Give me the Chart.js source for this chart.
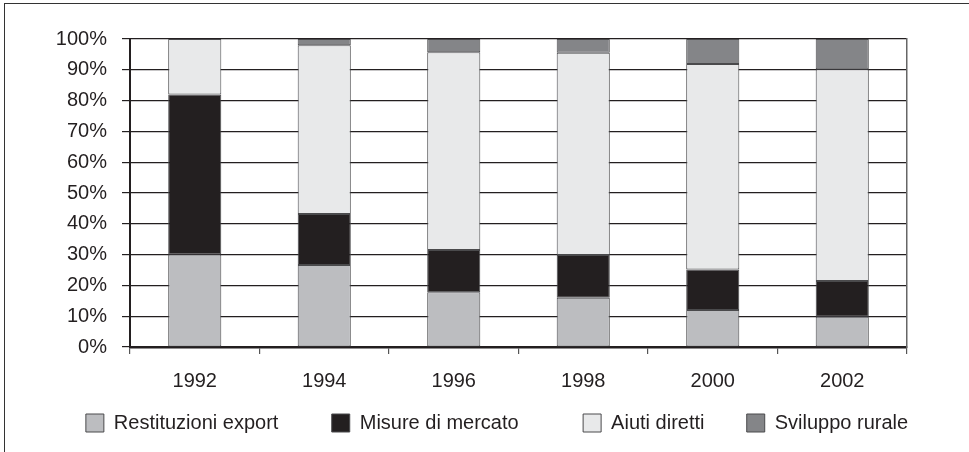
<!DOCTYPE html>
<html>
<head>
<meta charset="utf-8">
<script src="https://cdn.jsdelivr.net/npm/chart.js@4.4.1/dist/chart.umd.min.js"></script>
<style>
  html, body { margin: 0; padding: 0; background: #fff; overflow: hidden; }
  #wrap { position: relative; width: 969px; height: 452px; overflow: hidden; }
  #frame { position: absolute; left: 4px; top: 3px; right: -10px; bottom: -10px;
           border-left: 1.5px solid #333; border-top: 1.5px solid #333; pointer-events: none; }
</style>
</head>
<body>
<div id="wrap">
  <canvas id="chart" width="994" height="452"></canvas>
  <div id="frame"></div>
</div>
<script>
// Dati (% sul totale)
const years        = ['1992', '1994', '1996', '1998', '2000', '2002'];
const restituzioni = [30, 26.6, 17.8, 16, 12, 9.8];
const misure       = [52, 16.6, 13.7, 13.9, 13.2, 11.6];
const aiuti        = [18, 54.8, 64.2, 65.6, 66.7, 68.8];
const sviluppo     = [0, 2, 4.3, 4.5, 8.1, 9.8];
const yTicks       = [0, 10, 20, 30, 40, 50, 60, 70, 80, 90, 100];

const ink  = '#231f20';
const font = { family: '"Liberation Sans", Arial, Helvetica, sans-serif', size: 20 };

function serie(label, data, color) {
  return {
    label, data,
    backgroundColor: color,
    borderColor: '#4a4a4c',
    borderWidth: 1,
    borderSkipped: false,
    barPercentage: 0.41,
    categoryPercentage: 1
  };
}

// spazio extra dopo ogni voce della legenda (il padding vale anche in verticale)
const legendGaps = ['      ', '        ', '    ', ''];

new Chart(document.getElementById('chart'), {
  type: 'bar',
  data: {
    labels: years,
    datasets: [
      serie('Restituzioni export', restituzioni, '#bcbdc0'),
      serie('Misure di mercato',   misure,       '#231f20'),
      serie('Aiuti diretti',       aiuti,        '#e8e9ea'),
      serie('Sviluppo rurale',     sviluppo,     '#848588')
    ]
  },
  options: {
    responsive: false,
    animation: false,
    devicePixelRatio: 1,
    layout: { padding: { left: 0, right: 0, top: 39, bottom: 9 } },
    plugins: {
      tooltip: { enabled: false },
      legend: {
        position: 'bottom',
        labels: {
          boxWidth: 18, boxHeight: 18, padding: 20, color: ink, font,
          generateLabels: chart => {
            const items = Chart.defaults.plugins.legend.labels.generateLabels(chart);
            items.forEach((it, i) => { it.text += legendGaps[i] || ''; });
            return items;
          }
        }
      }
    },
    scales: {
      x: {
        stacked: true,
        offset: true,
        grid: { offset: true, drawOnChartArea: false, drawTicks: true, tickLength: 7, color: '#555', lineWidth: 1.2 },
        border: { display: true, color: ink, width: 2.5 },
        ticks: { color: ink, font, padding: 15 },
        afterFit: s => { s.height = 46; }
      },
      y: {
        stacked: true,
        min: 0, max: 100,
        afterBuildTicks: s => { s.ticks = yTicks.map(v => ({ value: v })); },
        grid: { color: ink, lineWidth: 1.2, tickLength: 8 },
        border: { display: true, color: ink, width: 2 },
        ticks: { color: ink, font, padding: 15, autoSkip: false, callback: v => v + '%' },
        afterFit: s => { s.width = 130; }
      },
      y2: {
        position: 'right',
        min: 0, max: 100,
        grid: { drawOnChartArea: false, drawTicks: false },
        border: { display: true, color: '#666', width: 1.5 },
        ticks: { display: false },
        afterFit: s => { s.width = 87; }
      }
    }
  }
});
</script>
</body>
</html>
